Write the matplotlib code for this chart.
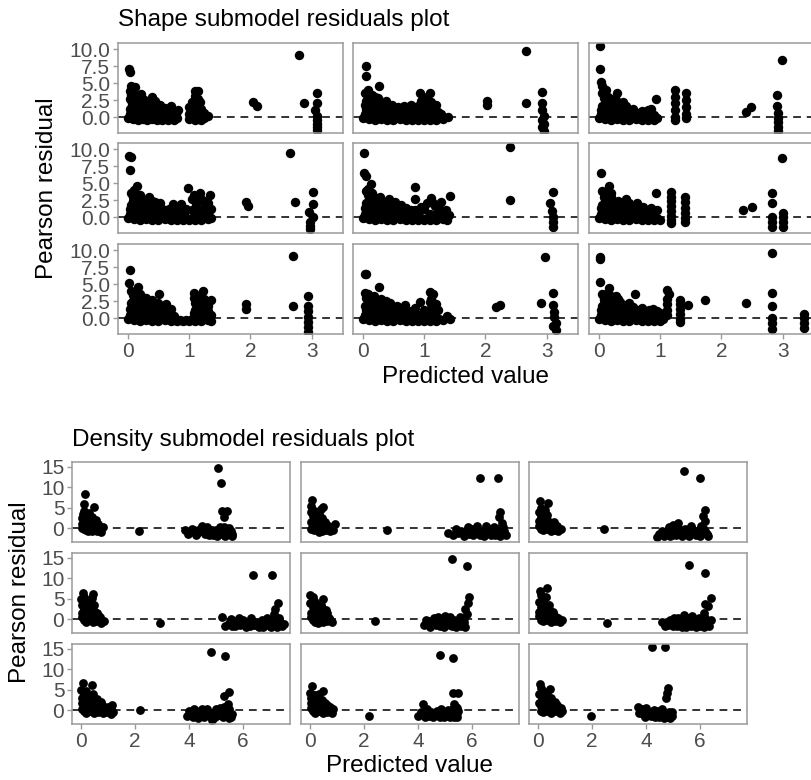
import matplotlib
matplotlib.use('Agg')
import matplotlib.pyplot as plt

plt.rcParams['font.family'] = ['Liberation Sans', 'DejaVu Sans']

# ---------------- data ----------------
shape_title = "Shape submodel residuals plot"
density_title = "Density submodel residuals plot"
x_label = "Predicted value"
y_label = "Pearson residual"

shape_xticks = [0, 1, 2, 3]
shape_yticks = [0.0, 2.5, 5.0, 7.5, 10.0]
shape_yticklabels = ["0.0", "2.5", "5.0", "7.5", "10.0"]
density_xticks = [0, 2, 4, 6]
density_yticks = [0, 5, 10, 15]

# Shape submodel panels (row-major, 3x3): (predicted, residual)
shape_r1c1 = [
    (0.00, -0.2), (0.04, 0.1), (0.08, -0.3), (0.12, 0.0), (0.16, -0.4), (0.20, -0.1), (0.24, -0.3),
    (0.28, 0.1), (0.32, -0.4), (0.36, -0.1), (0.40, -0.3), (0.44, 0.0), (0.48, -0.4), (0.52, -0.2),
    (0.56, -0.4), (0.60, -0.1), (0.65, -0.4), (0.70, -0.2), (0.75, -0.4), (0.80, -0.2), (1.00, -0.3),
    (1.05, 0.0), (1.10, -0.4), (1.15, -0.1), (1.20, -0.4), (1.25, -0.1),
    (0.02, 7.0), (0.03, 6.6), (0.05, 4.6), (0.04, 3.8), (0.06, 3.2), (0.03, 2.6), (0.07, 2.0),
    (0.05, 1.4), (0.08, 0.8), (0.12, 4.4), (0.15, 3.0), (0.18, 2.2), (0.20, 1.5), (0.22, 3.4),
    (0.25, 2.6), (0.28, 1.8), (0.30, 1.0), (0.35, 2.2), (0.40, 2.9), (0.42, 1.6), (0.45, 2.3),
    (0.50, 1.2), (0.52, 1.8), (0.55, 0.6), (0.60, 1.4), (0.70, 1.6), (0.72, 0.7),
    (0.03, 0.5), (0.10, 0.6), (0.17, 0.5), (0.24, 0.6), (0.31, 0.5), (0.38, 0.6), (0.45, 0.5),
    (0.03, 1.2), (0.10, 1.3), (0.17, 1.2), (0.24, 1.1), (0.31, 1.4), (0.38, 1.2), (0.45, 1.3),
    (0.10, 2.6), (0.17, 1.9), (0.24, 2.0), (0.31, 2.3), (0.05, 3.0), (0.09, 3.6), (0.14, 2.5),
    (0.62, 0.5), (0.68, 0.9), (0.78, 0.4), (0.82, 1.0), (0.58, 0.9),
    (1.05, 0.9), (1.10, 3.8), (1.15, 3.8), (1.10, 3.1), (1.15, 2.6), (1.10, 2.0), (1.15, 1.5),
    (1.12, 1.0), (1.10, 0.5), (1.20, 0.3), (1.00, 1.5), (1.05, 2.2), (1.20, 1.2), (1.25, 0.6),
    (1.30, 0.2), (1.00, 0.4), (1.18, 2.2),
    (2.05, 2.2), (2.10, 1.6), (2.80, 9.2), (2.87, 2.0), (3.08, 3.6), (3.08, 2.1), (3.05, 1.0),
    (3.08, 0.2), (3.08, -0.5), (3.08, -1.0), (3.08, -1.5), (3.08, -1.9),
]
shape_r1c2 = [
    (0.00, -0.2), (0.05, 0.1), (0.10, -0.3), (0.15, 0.0), (0.20, -0.4), (0.25, -0.1), (0.30, -0.3),
    (0.35, 0.0), (0.40, -0.4), (0.45, -0.2), (0.50, -0.4), (0.55, 0.0), (0.60, -0.3), (0.65, -0.1),
    (0.70, -0.4), (0.75, -0.2), (0.80, -0.4), (0.85, -0.1), (0.90, -0.4), (0.95, -0.2), (1.00, -0.4),
    (1.05, -0.1), (1.10, -0.4), (1.15, -0.2), (1.20, -0.4), (1.25, -0.1), (1.30, -0.3),
    (0.05, 7.5), (0.05, 6.1), (0.27, 4.6), (0.04, 3.6), (0.08, 3.0), (0.05, 2.4), (0.10, 1.8),
    (0.06, 1.2), (0.12, 0.7), (0.15, 3.3), (0.18, 2.2), (0.22, 1.5), (0.25, 2.8), (0.30, 1.9),
    (0.33, 1.0), (0.38, 2.4), (0.42, 1.4), (0.48, 1.8), (0.52, 0.8), (0.58, 1.5), (0.62, 0.6),
    (0.68, 1.6), (0.72, 1.0), (0.78, 1.7), (0.84, 0.9), (0.93, 3.5), (1.09, 3.5), (0.95, 2.3),
    (1.02, 2.0), (1.05, 2.9), (1.10, 1.5), (1.15, 1.0), (1.20, 1.8), (1.22, 0.8), (1.28, 0.4),
    (1.39, 0.0),
    (0.03, 0.5), (0.10, 0.6), (0.17, 0.5), (0.24, 0.6), (0.31, 0.5), (0.38, 0.6), (0.45, 0.5),
    (0.03, 1.8), (0.14, 1.2), (0.20, 0.9), (0.28, 1.2), (0.36, 1.6), (0.44, 0.9), (0.12, 2.6),
    (0.20, 3.0), (0.08, 4.0), (0.55, 1.2), (0.65, 1.2), (0.75, 0.5), (0.88, 0.5), (0.98, 1.0),
    (1.05, 0.5), (1.12, 2.2), (0.90, 1.6),
    (2.02, 2.3), (2.03, 1.7), (2.66, 9.7), (2.66, 2.1), (2.93, 3.7), (2.93, 2.0), (2.93, 1.0),
    (2.95, 0.2), (2.93, -0.5), (2.95, -1.0), (2.93, -1.5), (2.95, -2.0),
]
shape_r1c3 = [
    (0.00, -0.2), (0.05, 0.1), (0.10, -0.3), (0.15, 0.0), (0.20, -0.4), (0.25, -0.1), (0.30, -0.3),
    (0.35, 0.0), (0.40, -0.4), (0.45, -0.2), (0.50, -0.4), (0.55, 0.0), (0.60, -0.3), (0.65, -0.1),
    (0.70, -0.4), (0.75, -0.2), (0.80, -0.4), (0.85, -0.1), (0.90, -0.4), (0.95, -0.2),
    (0.02, 10.4), (0.02, 7.1), (0.03, 5.2), (0.05, 4.5), (0.30, 3.5), (0.05, 3.5), (0.08, 2.8),
    (0.12, 2.2), (0.06, 1.6), (0.15, 3.0), (0.20, 2.0), (0.25, 1.4), (0.28, 2.5), (0.35, 1.8),
    (0.40, 1.0), (0.45, 1.6), (0.50, 0.8), (0.55, 1.2), (0.62, 0.6), (0.70, 0.9), (0.94, 2.6),
    (0.90, 0.3), (0.85, 1.2),
    (0.03, 0.5), (0.10, 0.6), (0.17, 0.5), (0.24, 0.6), (0.31, 0.5), (0.38, 0.6), (0.45, 0.5),
    (0.03, 1.0), (0.10, 1.8), (0.17, 1.2), (0.24, 2.2), (0.32, 1.3), (0.40, 2.2), (0.08, 3.2),
    (0.12, 4.0), (0.20, 2.7), (0.58, 0.3), (0.75, 0.4), (0.80, 1.0),
    (1.24, 4.0), (1.24, 3.0), (1.24, 2.0), (1.24, 1.0), (1.24, 0.0), (1.24, -0.4),
    (1.43, 3.5), (1.43, 2.5), (1.43, 1.5), (1.43, 0.5), (1.43, -0.2),
    (2.40, 0.8), (2.49, 1.5), (2.99, 8.4), (2.91, 3.2), (2.91, 1.6), (2.93, 0.6), (2.93, -0.2),
    (2.93, -0.8), (2.93, -1.4), (2.93, -2.0),
]
shape_r2c1 = [
    (0.00, -0.2), (0.05, 0.1), (0.10, -0.3), (0.15, 0.0), (0.20, -0.4), (0.25, -0.1), (0.30, -0.3),
    (0.35, 0.0), (0.40, -0.4), (0.45, -0.2), (0.50, -0.4), (0.55, 0.0), (0.60, -0.3), (0.65, -0.1),
    (0.70, -0.4), (0.75, -0.2), (0.80, -0.4), (0.85, -0.1), (0.90, -0.4), (0.95, -0.2), (1.00, -0.4),
    (1.05, -0.1), (1.10, -0.4), (1.15, -0.2), (1.20, -0.4), (1.25, -0.1), (1.30, -0.3), (1.35, -0.1),
    (0.02, 9.0), (0.05, 8.9), (0.03, 6.9), (0.15, 4.5), (0.10, 4.0), (0.05, 3.5), (0.08, 2.9),
    (0.12, 2.3), (0.06, 1.8), (0.10, 1.2), (0.15, 0.7), (0.20, 3.3), (0.22, 2.0), (0.25, 1.4),
    (0.30, 2.5), (0.34, 2.9), (0.38, 1.8), (0.42, 1.0), (0.45, 2.2), (0.52, 2.0), (0.55, 1.2),
    (0.60, 1.0), (0.65, 0.5), (0.74, 1.9), (0.87, 1.9), (0.74, 0.6), (0.87, 0.6), (0.80, 1.2),
    (0.03, 0.5), (0.10, 0.6), (0.17, 0.5), (0.24, 0.6), (0.31, 0.5), (0.38, 0.6), (0.45, 0.5),
    (0.03, 1.2), (0.15, 1.6), (0.20, 1.1), (0.28, 1.9), (0.33, 1.2), (0.40, 2.4), (0.48, 1.5),
    (0.08, 2.4), (0.12, 3.4), (0.50, 0.7), (0.58, 0.4), (0.68, 1.2), (0.78, 0.3), (0.92, 0.4),
    (0.95, 1.2), (1.10, 1.4), (1.20, 0.3), (1.25, 2.4), (1.35, 1.2), (1.08, 3.2),
    (0.98, 4.3), (1.17, 3.6), (1.34, 3.2), (1.05, 2.6), (1.12, 2.0), (1.20, 2.7), (1.25, 1.5),
    (1.30, 2.0), (1.05, 1.0), (1.15, 0.8), (1.30, 0.6),
    (1.92, 2.2), (1.96, 1.6), (2.64, 9.5), (2.72, 2.2), (3.02, 3.7), (3.02, 1.9), (2.95, 0.7),
    (3.02, 0.0), (2.97, -0.8), (2.97, -1.3), (2.97, -1.8),
]
shape_r2c2 = [
    (0.00, -0.2), (0.05, 0.1), (0.10, -0.3), (0.15, 0.0), (0.20, -0.4), (0.25, -0.1), (0.30, -0.3),
    (0.35, 0.0), (0.40, -0.4), (0.45, -0.2), (0.50, -0.4), (0.55, 0.0), (0.60, -0.3), (0.65, -0.1),
    (0.70, -0.4), (0.75, -0.2), (0.80, -0.4), (0.85, -0.1), (0.90, -0.4), (0.95, -0.2), (1.00, -0.4),
    (1.05, -0.1), (1.10, -0.4), (1.15, -0.2), (1.20, -0.4), (1.25, -0.1), (1.30, -0.3), (1.38, -0.4),
    (0.02, 9.4), (0.02, 6.5), (0.05, 6.1), (0.13, 4.9), (0.05, 3.8), (0.08, 3.2), (0.10, 2.6),
    (0.06, 2.0), (0.12, 1.4), (0.15, 3.5), (0.18, 2.4), (0.22, 1.6), (0.28, 3.0), (0.32, 2.0),
    (0.35, 1.2), (0.42, 2.6), (0.48, 1.6), (0.52, 2.2), (0.58, 1.0), (0.62, 1.7), (0.70, 1.3),
    (0.85, 4.4), (0.85, 2.6), (0.78, 1.0), (0.95, 1.5), (1.05, 2.0), (1.12, 2.8), (1.18, 1.6),
    (1.22, 0.8), (1.28, 2.2), (1.42, 3.1), (1.35, 1.0), (1.40, 0.3),
    (0.03, 0.5), (0.10, 0.6), (0.17, 0.5), (0.24, 0.6), (0.31, 0.5), (0.38, 0.6), (0.45, 0.5),
    (0.03, 1.3), (0.15, 1.2), (0.20, 1.9), (0.26, 2.4), (0.30, 1.0), (0.38, 1.8), (0.45, 1.2),
    (0.08, 4.2), (0.10, 3.5), (0.22, 2.8), (0.55, 0.6), (0.65, 0.8), (0.72, 0.4), (0.85, 1.0),
    (0.90, 0.4), (1.00, 1.2), (1.10, 0.5), (1.15, 2.0), (1.25, 1.4), (1.30, 0.3),
    (2.40, 10.3), (2.40, 2.5), (3.10, 3.7), (3.05, 2.1), (3.08, 0.9), (3.10, 0.0), (3.10, -0.8),
    (3.10, -1.5),
]
shape_r2c3 = [
    (0.00, -0.2), (0.05, 0.1), (0.10, -0.3), (0.15, 0.0), (0.20, -0.4), (0.25, -0.1), (0.30, -0.3),
    (0.35, 0.0), (0.40, -0.4), (0.45, -0.2), (0.50, -0.4), (0.55, 0.0), (0.60, -0.3), (0.65, -0.1),
    (0.70, -0.4), (0.75, -0.2), (0.80, -0.4), (0.85, -0.1), (0.90, -0.4), (0.95, -0.2), (1.00, -0.4),
    (0.03, 6.5), (0.16, 4.6), (0.05, 3.8), (0.08, 3.0), (0.12, 2.4), (0.06, 1.8), (0.10, 1.2),
    (0.15, 0.7), (0.20, 2.9), (0.25, 2.2), (0.30, 1.5), (0.35, 2.0), (0.44, 2.6), (0.40, 1.0),
    (0.50, 1.3), (0.55, 0.6), (0.62, 2.0), (0.70, 1.0), (0.78, 0.6), (0.85, 1.3), (0.93, 3.6),
    (0.95, 1.0),
    (0.03, 0.5), (0.10, 0.6), (0.17, 0.5), (0.24, 0.6), (0.31, 0.5), (0.38, 0.6), (0.45, 0.5),
    (0.03, 1.3), (0.14, 1.8), (0.20, 1.2), (0.26, 1.6), (0.32, 2.4), (0.40, 1.8), (0.10, 2.6),
    (0.08, 3.5), (0.20, 3.5), (0.50, 2.0), (0.58, 1.2), (0.65, 0.4), (0.72, 1.5), (0.80, 1.0),
    (0.88, 0.3),
    (1.17, 3.7), (1.17, 3.0), (1.17, 2.3), (1.17, 1.6), (1.17, 0.9), (1.17, 0.2), (1.17, -0.5),
    (1.17, -0.9), (1.41, 3.0), (1.41, 2.2), (1.41, 1.4), (1.41, 0.6), (1.41, -0.2), (1.41, -0.8),
    (2.36, 1.0), (2.50, 1.5), (2.98, 8.7), (2.83, 3.6), (2.83, 2.1), (2.83, 0.0), (2.83, -0.8),
    (2.83, -1.5), (3.00, 0.6), (3.00, 0.0), (3.00, -0.8), (3.00, -1.5),
]
shape_r3c1 = [
    (0.00, -0.2), (0.05, 0.1), (0.10, -0.3), (0.15, 0.0), (0.20, -0.4), (0.25, -0.1), (0.30, -0.3),
    (0.35, 0.0), (0.40, -0.4), (0.45, -0.2), (0.50, -0.4), (0.55, 0.0), (0.60, -0.3), (0.65, -0.1),
    (0.70, -0.4), (0.75, -0.3), (0.80, -0.4), (0.85, -0.3), (0.90, -0.4), (0.95, -0.3), (1.00, -0.4),
    (1.05, -0.1), (1.10, -0.4), (1.15, -0.2), (1.20, -0.4), (1.25, -0.1), (1.30, -0.3), (1.35, -0.4),
    (0.03, 7.0), (0.02, 5.2), (0.17, 4.5), (0.05, 4.0), (0.08, 3.4), (0.12, 2.8), (0.06, 2.2),
    (0.10, 1.6), (0.14, 1.0), (0.20, 3.6), (0.23, 2.4), (0.27, 1.8), (0.30, 2.9), (0.35, 2.2),
    (0.38, 1.4), (0.42, 2.0), (0.45, 0.8), (0.51, 3.5), (0.50, 2.2), (0.55, 1.4), (0.60, 0.8),
    (0.65, 1.2), (0.70, 0.6),
    (0.03, 0.5), (0.10, 0.6), (0.17, 0.5), (0.24, 0.6), (0.31, 0.5), (0.38, 0.6), (0.45, 0.5),
    (0.03, 1.3), (0.16, 1.9), (0.20, 1.2), (0.26, 2.9), (0.32, 1.5), (0.40, 2.6), (0.48, 1.6),
    (0.08, 2.5), (0.12, 3.8), (0.22, 3.0), (0.55, 0.4), (0.62, 2.0), (0.70, 1.4), (0.75, 0.3),
    (1.08, 3.7), (1.23, 4.0), (1.35, 2.7), (1.08, 2.9), (1.10, 2.2), (1.15, 1.5), (1.08, 0.8),
    (1.20, 2.2), (1.25, 1.4), (1.30, 1.8), (1.22, 0.6), (1.32, 0.2), (1.10, 1.2), (1.15, 3.2),
    (1.25, 2.8), (1.30, 1.0), (1.35, 0.5), (1.18, 0.3),
    (1.93, 2.1), (1.93, 1.3), (2.69, 9.1), (2.69, 1.8), (2.94, 3.2), (2.94, 1.8), (2.94, 1.0),
    (2.94, 0.2), (2.94, -0.6), (2.94, -1.3), (2.94, -2.0),
]
shape_r3c2 = [
    (0.00, -0.2), (0.05, 0.1), (0.10, -0.3), (0.15, 0.0), (0.20, -0.4), (0.25, -0.1), (0.30, -0.3),
    (0.35, 0.0), (0.40, -0.4), (0.45, -0.2), (0.50, -0.4), (0.55, 0.0), (0.60, -0.3), (0.65, -0.1),
    (0.70, -0.4), (0.75, -0.2), (0.80, -0.4), (0.85, -0.1), (0.90, -0.4), (0.95, -0.2), (1.00, -0.4),
    (1.05, -0.1), (1.10, -0.4), (1.15, -0.2), (1.20, -0.4), (1.25, -0.1), (1.30, -0.3),
    (0.03, 6.5), (0.05, 6.5), (0.03, 3.7), (0.27, 4.5), (0.06, 3.0), (0.09, 2.4), (0.12, 1.8),
    (0.06, 1.2), (0.15, 0.8), (0.18, 3.2), (0.22, 2.2), (0.26, 1.5), (0.30, 2.8), (0.35, 1.9),
    (0.40, 1.2), (0.45, 2.2), (0.50, 1.5), (0.55, 0.8), (0.62, 1.3), (0.69, 1.9), (0.75, 1.0),
    (0.85, 1.5), (0.93, 2.4), (1.09, 3.8), (1.15, 3.6), (1.12, 2.8), (1.15, 2.2), (1.12, 1.5),
    (1.18, 0.9), (1.12, 0.3), (1.22, 1.2), (1.42, -0.2), (1.38, 0.3),
    (0.03, 0.5), (0.10, 0.6), (0.17, 0.5), (0.24, 0.6), (0.31, 0.5), (0.38, 0.6), (0.45, 0.5),
    (0.03, 1.8), (0.14, 1.3), (0.20, 2.6), (0.26, 1.1), (0.32, 1.6), (0.38, 2.5), (0.45, 1.0),
    (0.08, 3.6), (0.14, 2.4), (0.55, 1.8), (0.60, 0.5), (0.70, 1.2), (0.75, 0.4), (0.82, 1.0),
    (0.90, 0.4), (1.00, 1.2), (1.05, 0.6), (1.10, 2.4), (1.20, 2.0),
    (2.18, 1.6), (2.23, 1.9), (2.97, 9.0), (2.90, 2.2), (3.10, 3.7), (3.10, 1.9), (3.12, 0.9),
    (3.12, 0.2), (3.15, -0.8), (3.15, -1.7), (3.10, -1.2),
]
shape_r3c3 = [
    (0.00, -0.2), (0.05, 0.1), (0.10, -0.3), (0.15, 0.0), (0.20, -0.4), (0.25, -0.1), (0.30, -0.3),
    (0.35, 0.0), (0.40, -0.4), (0.45, -0.2), (0.50, -0.4), (0.55, 0.0), (0.60, -0.3), (0.65, -0.1),
    (0.70, -0.4), (0.75, -0.2), (0.80, -0.4), (0.85, -0.1), (0.90, -0.4), (0.95, -0.2), (1.00, -0.4),
    (1.05, -0.1),
    (0.02, 9.0), (0.02, 8.7), (0.02, 5.3), (0.16, 4.4), (0.05, 3.6), (0.08, 3.0), (0.12, 2.4),
    (0.06, 1.8), (0.10, 1.2), (0.15, 0.6), (0.20, 3.2), (0.25, 2.6), (0.30, 1.8), (0.35, 2.4),
    (0.40, 1.4), (0.45, 1.9), (0.50, 1.0), (0.59, 3.5), (0.55, 1.6), (0.62, 0.8), (0.70, 1.5),
    (0.75, 0.8), (0.82, 1.2), (0.90, 0.5), (0.95, 1.1),
    (0.03, 0.5), (0.10, 0.6), (0.17, 0.5), (0.24, 0.6), (0.31, 0.5), (0.38, 0.6), (0.45, 0.5),
    (0.03, 1.2), (0.14, 1.9), (0.20, 1.2), (0.26, 2.0), (0.32, 2.8), (0.38, 1.6), (0.45, 1.2),
    (0.08, 2.6), (0.12, 3.6), (0.22, 2.4), (0.28, 3.2), (0.50, 2.2), (0.58, 0.5), (0.65, 1.2),
    (0.72, 0.4), (0.80, 0.8), (0.88, 1.3), (1.00, 0.7),
    (1.12, 4.1), (1.15, 3.6), (1.12, 2.8), (1.12, 2.0), (1.12, 1.2), (1.12, 0.4), (1.33, 2.7),
    (1.33, 2.0), (1.33, 1.3), (1.33, 0.6), (1.33, -0.1), (1.33, -0.6), (1.46, 1.9), (1.74, 2.6),
    (2.40, 2.2), (2.83, 9.6), (2.83, 3.7), (2.83, 1.8), (2.83, 0.0), (2.83, -0.7), (2.83, -1.6),
    (3.35, 0.6), (3.35, 0.0), (3.35, -0.8), (3.35, -1.4),
]

# Density submodel panels (row-major, 3x3)
density_r1c1 = [
    (0.15, 8.4), (0.12, 5.8), (0.48, 5.1), (0.08, 3.5), (0.15, 2.6), (0.25, 3.0), (0.35, 2.2),
    (0.10, 1.5), (0.20, 1.0), (0.30, 0.5), (0.45, 1.6), (0.55, 0.8), (0.62, 0.2), (0.05, 0.0),
    (0.10, -0.3), (0.20, -0.5), (0.30, -0.2), (0.40, -0.6), (0.50, -0.3), (0.60, -0.7), (0.70, -0.4),
    (0.75, -0.9), (0.25, -0.8),
    (0.05, 1.0), (0.15, 0.3), (0.25, 1.5), (0.35, 0.9), (0.45, 0.2), (0.12, 4.2), (0.20, 2.0),
    (0.30, 3.6), (0.40, 2.8), (0.55, 2.0), (0.65, 1.0), (0.70, -0.1), (0.80, 0.3), (0.05, 2.5),
    (2.15, -0.8),
    (3.85, -0.4), (4.00, -0.9), (4.20, -0.5), (4.30, -1.2), (4.47, 0.5), (4.50, -0.6), (4.60, -1.5),
    (4.70, -0.3), (4.80, -1.0), (4.90, -1.8), (5.00, -0.5), (5.10, -1.2), (5.20, -0.3), (5.30, -1.6),
    (5.40, -0.8), (5.50, 0.0), (5.60, -1.4), (5.30, 0.3),
    (3.95, -1.5), (4.10, -0.2), (4.25, -1.8), (4.40, -0.3), (4.55, -1.0), (4.65, 0.2), (4.75, -1.8),
    (4.85, -0.4), (4.95, -1.2), (5.05, -2.0), (5.15, 0.2), (5.25, -1.0), (5.35, -2.0), (5.45, -1.3),
    (5.55, -0.6), (5.60, -2.0),
    (5.08, 14.7), (5.18, 11.0), (5.22, 4.3), (5.40, 4.3), (5.30, 2.7),
]
density_r1c2 = [
    (0.07, 6.8), (0.05, 4.0), (0.48, 5.1), (0.40, 4.6), (0.10, 3.0), (0.20, 3.5), (0.15, 2.0),
    (0.30, 2.4), (0.25, 1.2), (0.40, 1.6), (0.10, 0.5), (0.50, 0.8), (0.93, 1.0), (0.60, 0.2),
    (0.05, -0.2), (0.15, -0.5), (0.30, -0.3), (0.45, -0.7), (0.60, -0.4), (0.75, -0.8), (0.85, -0.5),
    (0.35, -0.9),
    (0.05, 1.5), (0.15, 1.0), (0.20, 2.8), (0.30, 0.5), (0.35, 3.4), (0.45, 2.5), (0.55, 1.5),
    (0.65, 0.8), (0.75, 0.2), (0.05, 5.5), (0.12, 4.5), (0.25, 4.0),
    (2.85, -0.5),
    (5.13, -1.2), (5.40, -0.3), (5.60, -0.8), (5.80, -0.4), (5.90, -1.5), (6.00, -0.2), (6.10, -1.0),
    (6.20, 0.4), (6.30, -1.6), (6.40, -0.6), (6.50, -1.2), (6.60, -0.3), (6.70, -1.7), (6.80, 0.3),
    (6.90, -1.0), (7.00, -0.3), (7.10, -1.4), (7.20, -0.6), (6.50, 0.5),
    (5.30, -1.8), (5.50, -1.3), (5.70, -1.9), (5.85, 0.2), (6.05, -1.8), (6.25, -0.8), (6.45, -1.9),
    (6.55, 0.0), (6.75, -0.6), (6.85, -1.8), (6.95, -0.8), (7.05, -1.9), (7.15, 0.2), (7.25, -1.6),
    (6.30, 12.4), (6.96, 12.4), (7.05, 3.9), (7.00, 2.7), (7.10, 1.2),
]
density_r1c3 = [
    (0.07, 6.6), (0.37, 6.1), (0.05, 4.0), (0.10, 2.8), (0.25, 3.2), (0.15, 1.8), (0.35, 2.0),
    (0.50, 1.2), (0.05, 0.6), (0.30, 0.5), (0.60, 0.3), (0.10, -0.2), (0.20, -0.5), (0.35, -0.3),
    (0.50, -0.7), (0.65, -0.4), (0.75, -0.8), (0.85, -0.3), (0.45, 0.9),
    (0.05, 1.8), (0.15, 1.0), (0.25, 2.2), (0.40, 1.5), (0.55, 0.3), (0.70, 0.5), (0.10, 5.0),
    (0.25, 4.5), (0.35, 3.2), (0.60, 1.4),
    (2.46, -0.2),
    (4.40, -2.1), (4.60, -0.6), (4.75, -1.2), (4.85, 0.2), (4.95, -1.6), (5.05, -0.5), (5.20, 1.3),
    (5.25, -1.0), (5.35, -1.9), (5.45, -0.2), (5.55, -1.2), (5.65, 0.5), (5.75, -0.8), (5.85, -1.8),
    (5.95, -0.4), (6.05, 0.6), (6.15, -1.0), (6.25, -1.5), (5.00, 0.8),
    (4.50, -1.5), (4.65, -2.0), (4.80, -0.6), (4.90, -1.9), (5.10, -1.6), (5.15, 0.4), (5.30, -0.4),
    (5.50, -1.0), (5.60, -1.9), (5.70, -0.3), (5.90, -1.4), (6.00, -1.9), (6.10, 0.0), (6.20, -0.6),
    (6.30, -1.9),
    (5.40, 14.0), (6.00, 12.3), (6.20, 4.4), (6.10, 3.0), (6.20, 1.8),
]
density_r2c1 = [
    (0.08, 6.5), (0.00, 4.9), (0.43, 6.1), (0.05, 3.5), (0.15, 4.0), (0.10, 2.5), (0.25, 3.0),
    (0.35, 2.2), (0.50, 2.0), (0.60, 1.5), (0.20, 1.2), (0.40, 0.8), (0.05, 0.5), (0.55, 0.3),
    (0.70, 0.5), (0.10, -0.3), (0.20, -0.6), (0.30, -0.2), (0.45, -0.8), (0.60, -0.4), (0.75, -0.9),
    (0.85, -0.4),
    (0.05, 1.5), (0.15, 0.8), (0.25, 1.8), (0.30, 0.5), (0.40, 2.8), (0.45, 1.5), (0.55, -0.3),
    (0.65, 0.9), (0.70, -0.5), (0.10, 5.5), (0.20, 4.8), (0.30, 4.0), (0.40, 5.2), (0.50, 3.4),
    (0.20, 3.2),
    (2.93, -1.0),
    (5.22, 0.5), (5.50, -1.0), (5.60, -1.8), (5.75, -0.5), (5.90, -1.4), (6.00, -0.2), (6.10, -1.9),
    (6.20, -0.8), (6.30, 0.2), (6.40, -1.5), (6.50, -0.6), (6.60, -1.9), (6.70, -0.2), (6.80, -1.2),
    (6.90, 0.3), (7.00, -1.6), (7.10, -0.6), (7.20, -1.3), (7.35, 0.3), (7.45, -1.8),
    (5.35, -1.7), (5.55, 0.0), (5.70, -1.6), (5.85, 0.3), (5.95, -1.0), (6.15, -1.1), (6.25, -1.8),
    (6.35, -0.6), (6.55, -1.7), (6.65, -0.9), (6.75, -1.9), (6.95, -0.6), (7.05, -1.9), (7.15, -0.3),
    (7.25, -1.9), (7.40, -0.9), (7.50, -1.2),
    (6.38, 10.9), (7.07, 10.9), (7.30, 4.0), (7.20, 2.5), (7.15, 1.2),
]
density_r2c2 = [
    (0.02, 5.8), (0.10, 5.5), (0.50, 5.0), (0.02, 4.0), (0.10, 3.0), (0.20, 4.2), (0.30, 3.0),
    (0.15, 2.0), (0.35, 2.0), (0.50, 1.8), (0.60, 1.2), (0.25, 1.0), (0.05, 0.5), (0.45, 0.4),
    (0.70, 0.3), (0.10, -0.3), (0.20, -0.6), (0.35, -0.3), (0.50, -0.8), (0.65, -0.4), (0.80, -0.8),
    (0.30, -0.9),
    (0.05, 1.5), (0.15, 0.9), (0.25, 2.0), (0.35, 1.0), (0.45, 2.8), (0.55, 0.3), (0.65, 1.5),
    (0.75, -0.3), (0.10, 4.8), (0.25, 3.8), (0.40, 3.5), (0.60, 2.3),
    (2.40, -0.5),
    (4.24, -1.5), (4.40, -0.5), (4.50, -1.2), (4.60, 0.2), (4.70, -0.8), (4.80, -1.6), (4.90, -0.3),
    (5.00, 0.8), (5.05, -1.3), (5.15, -0.5), (5.25, -1.8), (5.35, -0.2), (5.45, -1.0), (5.55, 0.4),
    (5.60, -1.6), (5.70, -0.6), (5.20, 0.5),
    (4.30, -0.2), (4.45, -1.9), (4.55, -0.4), (4.65, -1.5), (4.75, 0.5), (4.85, -1.0), (4.95, -1.9),
    (5.10, -0.9), (5.20, -1.5), (5.30, -0.8), (5.40, -1.9), (5.50, -0.4), (5.65, -1.0), (5.75, -1.9),
    (5.70, 0.2),
    (5.25, 14.7), (5.80, 12.9), (5.90, 5.3), (5.85, 4.0), (5.75, 2.5), (5.80, 1.2),
]
density_r2c3 = [
    (0.07, 7.0), (0.33, 7.7), (0.05, 4.2), (0.15, 5.5), (0.10, 3.0), (0.25, 3.5), (0.20, 2.0),
    (0.40, 2.4), (0.55, 1.8), (0.30, 1.0), (0.05, 0.8), (0.50, 0.5), (0.70, 0.3), (0.10, -0.2),
    (0.20, -0.5), (0.35, -0.3), (0.50, -0.7), (0.65, -0.4), (0.80, -0.8), (0.90, -0.3),
    (0.05, 1.8), (0.15, 1.0), (0.25, 2.5), (0.35, 1.8), (0.45, 0.6), (0.60, 1.0), (0.75, 0.2),
    (0.10, 6.0), (0.20, 4.5), (0.30, 5.5), (0.40, 3.5), (0.15, 3.5),
    (2.57, -0.9),
    (4.60, -0.7), (4.80, -1.4), (4.90, -0.3), (5.00, -1.8), (5.10, -0.6), (5.20, 0.3), (5.30, -1.5),
    (5.40, -0.4), (5.50, -1.9), (5.60, -0.8), (5.70, 0.7), (5.80, -1.3), (5.90, -0.4), (6.00, -1.8),
    (6.10, -0.6), (6.20, 0.2), (6.30, -1.2), (6.40, -0.3), (5.40, 1.0),
    (4.70, -1.8), (4.85, -0.8), (4.95, -1.2), (5.05, 0.2), (5.15, -1.8), (5.25, -0.7), (5.35, -1.9),
    (5.45, -1.2), (5.55, 0.3), (5.65, -1.6), (5.75, -0.4), (5.85, -1.9), (5.95, 0.3), (6.05, -1.2),
    (6.15, -1.9), (6.25, -0.6), (6.35, -1.8),
    (5.60, 13.3), (6.19, 11.4), (6.40, 5.1), (6.20, 3.8), (6.30, 3.2), (6.15, 1.5),
]
density_r3c1 = [
    (0.08, 6.6), (0.02, 5.0), (0.40, 6.1), (0.05, 3.0), (0.15, 3.5), (0.25, 2.5), (0.35, 2.8),
    (0.10, 1.5), (0.50, 2.5), (0.65, 1.8), (0.30, 1.2), (0.50, 0.8), (0.80, 1.0), (1.15, 1.2),
    (0.05, 0.3), (0.95, 0.4), (0.10, -0.3), (0.20, -0.6), (0.35, -0.3), (0.50, -0.8), (0.65, -0.4),
    (0.80, -0.8), (0.95, -0.5), (1.10, -0.9), (1.20, -0.4),
    (0.05, 1.8), (0.15, 1.0), (0.20, 2.2), (0.30, 0.5), (0.40, 1.8), (0.45, 0.3), (0.60, 0.9),
    (0.70, 0.2), (0.85, 0.3), (1.00, 0.8), (1.10, 0.2), (0.10, 4.0), (0.20, 4.8), (0.30, 3.4),
    (0.45, 4.0), (0.60, 2.8), (0.75, 2.0),
    (2.20, 0.0),
    (3.93, -1.4), (4.10, -0.5), (4.20, 0.2), (4.30, -1.2), (4.40, -0.3), (4.50, 0.3), (4.60, -1.0),
    (4.70, -0.4), (4.80, -1.8), (4.90, -0.6), (5.00, 0.2), (5.10, -1.3), (5.20, -0.5), (5.30, 0.8),
    (5.35, -1.5), (5.45, -0.3), (5.55, -1.7), (4.85, -2.3),
    (4.00, -0.3), (4.15, -1.8), (4.25, -0.6), (4.35, -1.9), (4.45, -0.9), (4.55, -1.8), (4.65, 0.3),
    (4.75, -1.2), (4.95, -1.6), (5.05, -0.8), (5.15, 0.4), (5.25, -1.8), (5.40, -0.9), (5.50, 0.2),
    (5.60, -1.0),
    (4.80, 14.2), (5.33, 13.3), (5.50, 4.4), (5.30, 3.5), (5.45, 1.5), (5.50, -1.9),
]
density_r3c2 = [
    (0.07, 5.8), (0.02, 4.3), (0.47, 4.8), (0.05, 3.0), (0.15, 2.5), (0.25, 3.2), (0.30, 2.0),
    (0.10, 1.5), (0.40, 1.2), (0.55, 1.8), (0.20, 0.8), (0.05, 0.4), (0.60, 0.5), (0.75, 0.8),
    (0.10, -0.3), (0.20, -0.6), (0.35, -0.3), (0.50, -0.8), (0.65, -0.4), (0.80, -0.6),
    (0.05, 1.8), (0.15, 1.0), (0.25, 2.2), (0.35, 0.5), (0.45, 2.5), (0.50, 0.2), (0.65, 1.2),
    (0.75, -0.2), (0.10, 3.8), (0.20, 3.6), (0.35, 4.0), (0.85, 0.3),
    (2.17, -1.4),
    (4.00, -1.4), (4.20, 1.4), (4.30, -0.8), (4.40, -1.5), (4.50, -0.4), (4.60, -1.2), (4.70, -0.2),
    (4.80, -1.6), (4.90, -0.6), (5.00, -1.3), (5.10, 0.0), (5.20, -1.7), (5.30, 0.3), (5.40, -1.0),
    (5.45, -1.8), (5.50, -0.2),
    (4.10, -0.5), (4.25, -1.8), (4.35, 0.2), (4.45, -0.8), (4.55, -1.8), (4.65, -0.6), (4.75, -1.2),
    (4.85, 0.2), (4.95, -1.8), (5.05, -0.7), (5.15, -1.4), (5.25, -0.6), (5.35, -1.8), (5.45, -0.6),
    (5.40, 0.8),
    (4.83, 13.6), (5.30, 12.8), (5.30, 4.2), (5.50, 4.2), (5.35, 1.5), (5.45, 0.6),
]
density_r3c3 = [
    (0.07, 6.4), (0.45, 5.1), (0.05, 4.0), (0.15, 3.0), (0.30, 3.5), (0.20, 2.0), (0.40, 2.5),
    (0.55, 1.5), (0.65, 2.0), (0.10, 1.0), (0.35, 0.8), (0.75, 0.5), (0.10, -0.2), (0.20, -0.5),
    (0.35, -0.3), (0.50, -0.7), (0.65, -0.3), (0.80, -0.6), (0.90, -0.2),
    (0.05, 1.8), (0.15, 1.0), (0.25, 2.5), (0.30, 0.5), (0.45, 1.5), (0.55, 0.3), (0.70, 1.2),
    (0.85, 0.6), (0.10, 5.5), (0.20, 4.5), (0.35, 4.4), (0.50, 3.0),
    (1.95, -1.4),
    (3.70, 0.7), (3.80, -0.3), (3.90, -1.0), (4.00, 0.4), (4.10, -0.6), (4.20, -1.4), (4.30, 0.0),
    (4.40, -0.8), (4.50, -1.6), (4.55, -0.2), (4.65, -1.1), (4.75, -1.8), (4.85, -0.5), (4.95, -1.5),
    (4.60, 0.3),
    (3.75, -0.8), (3.85, 0.2), (3.95, -1.6), (4.05, -0.3), (4.15, -1.0), (4.25, -0.5), (4.35, -1.6),
    (4.45, -0.1), (4.55, -1.2), (4.65, -1.9), (4.70, -0.6), (4.80, -1.2), (4.90, -1.9), (4.95, -0.4),
    (4.24, 15.5), (4.70, 15.5), (4.80, 5.4), (4.78, 4.3), (4.75, 3.0),
]

shape_panels = [shape_r1c1, shape_r1c2, shape_r1c3,
                shape_r2c1, shape_r2c2, shape_r2c3,
                shape_r3c1, shape_r3c2, shape_r3c3]
density_panels = [density_r1c1, density_r1c2, density_r1c3,
                  density_r2c1, density_r2c2, density_r2c3,
                  density_r3c1, density_r3c2, density_r3c3]

# ---------------- layout ----------------
W, H = 812, 780
fig = plt.figure(figsize=(W / 100, H / 100), dpi=100)

TICK_COLOR = '#4d4d4d'
BORDER = '#9a9a9a'


def px_axes(left, top, w, h):
    return fig.add_axes([left / W, 1 - (top + h) / H, w / W, h / H])


def draw_panel(ax, pts, xlim, ylim, xticks, yticks, yticklabels, show_x, show_y, ms):
    xs = [p[0] for p in pts]
    ys = [p[1] for p in pts]
    ax.axhline(0, color='#333333', lw=1.4, ls=(0, (4, 3)), zorder=1)
    ax.scatter(xs, ys, s=ms, color='black', linewidths=0, zorder=2)
    ax.set_xlim(*xlim)
    ax.set_ylim(*ylim)
    ax.set_xticks(xticks)
    ax.set_yticks(yticks)
    for sp in ax.spines.values():
        sp.set_color(BORDER)
        sp.set_linewidth(1.1)
    ax.tick_params(axis='both', colors=BORDER, length=3.5, width=1.0,
                   labelcolor=TICK_COLOR, labelsize=15, pad=2)
    if show_y:
        ax.set_yticklabels(yticklabels)
    else:
        ax.tick_params(axis='y', left=False, labelleft=False)
    if show_x:
        ax.set_xticklabels([str(t) for t in xticks])
    else:
        ax.tick_params(axis='x', bottom=False, labelbottom=False)


# Shape grid
s_lefts = [118, 353, 589]
s_tops = [43, 143, 244]
for i, pts in enumerate(shape_panels):
    r, c = divmod(i, 3)
    ax = px_axes(s_lefts[c], s_tops[r], 225, 90)
    draw_panel(ax, pts, (-0.16, 3.51), (-2.35, 10.9), shape_xticks, shape_yticks,
               shape_yticklabels, r == 2, c == 0, 46)

# Density grid
d_lefts = [72, 301, 529]
d_tops = [462, 553, 644]
for i, pts in enumerate(density_panels):
    r, c = divmod(i, 3)
    ax = px_axes(d_lefts[c], d_tops[r], 218, 80)
    draw_panel(ax, pts, (-0.33, 7.74), (-3.4, 16.2), density_xticks, density_yticks,
               [str(t) for t in density_yticks], r == 2, c == 0, 40)

# Titles and axis labels
fig.text(118 / W, 1 - 20 / H, shape_title, fontsize=17.5, ha='left', va='center', color='black')
fig.text(72 / W, 1 - 440 / H, density_title, fontsize=17.5, ha='left', va='center', color='black')
fig.text(466 / W, 1 - 377 / H, x_label, fontsize=17.5, ha='center', va='center', color='black')
fig.text(410 / W, 1 - 766 / H, x_label, fontsize=17.5, ha='center', va='center', color='black')
fig.text(47 / W, 1 - 188 / H, y_label, fontsize=17.5, ha='center', va='center', rotation=90, color='black')
fig.text(20 / W, 1 - 592 / H, y_label, fontsize=17.5, ha='center', va='center', rotation=90, color='black')

fig.savefig('out.png', dpi=100, facecolor='white')
